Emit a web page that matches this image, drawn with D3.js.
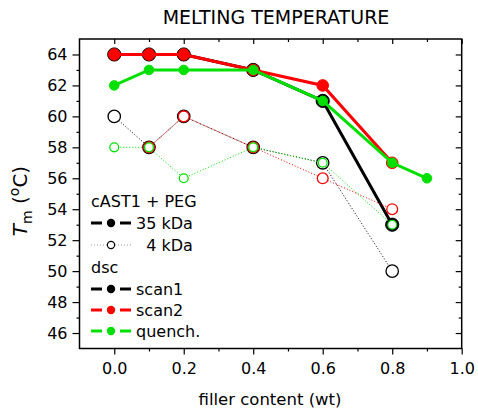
<!DOCTYPE html>
<meta charset="utf-8">
<style>
body {
  margin: 0;
  background: #fff;
}
text {
  font-family: "DejaVu Sans", sans-serif;
  fill: #000;
}
.axis line {
  stroke: #000;
  stroke-width: 1.2;
}
.axis text {
  font-size: 16px;
}
</style>
<body>
<script src="https://cdn.jsdelivr.net/npm/d3@7"></script>
<script>

var width = 478,
    height = 415;

// 35 kDa PEG (filled symbols, solid lines)
var x35 = [0.0, 0.1, 0.2, 0.4, 0.6, 0.8];
var scan1_35 = [64, 64, 64, 63, 61, 53];
var scan2_35 = [64, 64, 64, 63, 62, 57];
var xQuench35 = [0.0, 0.1, 0.2, 0.4, 0.6, 0.8, 0.9];
var quench_35 = [62, 63, 63, 63, 61, 57, 56];

// 4 kDa PEG (open symbols, dotted lines)
var x4 = [0.0, 0.1, 0.2, 0.4, 0.6, 0.8];
var scan1_4 = [60, 58, 60, 58, 57, 50];
var xScan2_4 = [0.1, 0.2, 0.4, 0.6, 0.8];
var scan2_4 = [58, 60, 58, 56, 54];
var quench_4 = [58, 58, 56, 58, 57, 53];

var xTicks = [0.0, 0.2, 0.4, 0.6, 0.8, 1.0];
var yTicks = [46, 48, 50, 52, 54, 56, 58, 60, 62, 64];

var colors = {scan1: "#000000", scan2: "#ff0000", quench: "#00e000"};
var radius = {scan1: 6.6, scan2: 5.8, quench: 4.8};

var series = [
  {key: "scan1", kda: 35, xs: x35, ys: scan1_35},
  {key: "scan2", kda: 35, xs: x35, ys: scan2_35},
  {key: "quench", kda: 35, xs: xQuench35, ys: quench_35},
  {key: "scan1", kda: 4, xs: x4, ys: scan1_4},
  {key: "scan2", kda: 4, xs: xScan2_4, ys: scan2_4},
  {key: "quench", kda: 4, xs: x4, ys: quench_4}
];

var legendHeaders = ["cAST1 + PEG", "dsc"];
var legendPeg = [{label: "35 kDa", kda: 35}, {label: "\u20074 kDa", kda: 4}];
var legendDsc = [{label: "scan1", key: "scan1"}, {label: "scan2", key: "scan2"}, {label: "quench.", key: "quench"}];

var x = d3.scaleLinear().domain([-0.1, 1.0]).range([79.5, 461.7]);
var y = d3.scaleLinear().domain([45, 65]).range([348.5, 39]);

var svg = d3.select("body").append("svg")
    .attr("width", width)
    .attr("height", height);

// axes
svg.append("g").attr("class", "axis")
    .attr("transform", "translate(" + x.range()[0] + ",0)")
    .call(d3.axisLeft(y).tickValues(yTicks).tickSize(7).tickPadding(5))
    .call(function(g) { g.select(".domain").remove(); });
svg.append("g").attr("class", "axis")
    .attr("transform", "translate(" + x.range()[0] + ",0)")
    .call(d3.axisLeft(y).tickValues(d3.range(47, 65, 2)).tickSize(3).tickFormat(""))
    .call(function(g) { g.select(".domain").remove(); });
svg.append("g").attr("class", "axis")
    .attr("transform", "translate(" + x.range()[1] + ",0)")
    .call(d3.axisRight(y).tickValues(yTicks).tickSize(-6).tickFormat(""))
    .call(function(g) { g.select(".domain").remove(); });
svg.append("g").attr("class", "axis")
    .attr("transform", "translate(" + x.range()[1] + ",0)")
    .call(d3.axisRight(y).tickValues(d3.range(47, 65, 2)).tickSize(-3).tickFormat(""))
    .call(function(g) { g.select(".domain").remove(); });

svg.append("g").attr("class", "axis")
    .attr("transform", "translate(0," + y.range()[0] + ")")
    .call(d3.axisBottom(x).tickValues(xTicks).tickSize(6).tickPadding(8).tickFormat(d3.format(".1f")))
    .call(function(g) { g.select(".domain").remove(); });
svg.append("g").attr("class", "axis")
    .attr("transform", "translate(0," + y.range()[0] + ")")
    .call(d3.axisBottom(x).tickValues([0.1, 0.3, 0.5, 0.7, 0.9]).tickSize(3).tickFormat(""))
    .call(function(g) { g.select(".domain").remove(); });
svg.append("g").attr("class", "axis")
    .attr("transform", "translate(0," + y.range()[1] + ")")
    .call(d3.axisTop(x).tickValues(xTicks).tickSize(-5).tickFormat(""))
    .call(function(g) { g.select(".domain").remove(); });
svg.append("g").attr("class", "axis")
    .attr("transform", "translate(0," + y.range()[1] + ")")
    .call(d3.axisTop(x).tickValues([0.1, 0.3, 0.5, 0.7, 0.9]).tickSize(-3).tickFormat(""))
    .call(function(g) { g.select(".domain").remove(); });

svg.append("rect")
    .attr("x", x.range()[0])
    .attr("y", y.range()[1])
    .attr("width", x.range()[1] - x.range()[0])
    .attr("height", y.range()[0] - y.range()[1])
    .attr("fill", "none")
    .attr("stroke", "#000")
    .attr("stroke-width", 1.5);

// series
var line = d3.line()
    .x(function(d) { return x(d[0]); })
    .y(function(d) { return y(d[1]); });

series.forEach(function(s) {
  var pts = s.xs.map(function(v, i) { return [v, s.ys[i]]; });
  var g = svg.append("g");
  var filled = s.kda === 35;
  g.append("path")
      .datum(pts)
      .attr("d", line)
      .attr("fill", "none")
      .attr("stroke", colors[s.key])
      .attr("stroke-width", filled ? 3 : 1)
      .attr("stroke-dasharray", filled ? null : "1,2");
  g.selectAll("circle")
      .data(pts)
    .enter().append("circle")
      .attr("cx", function(d) { return x(d[0]); })
      .attr("cy", function(d) { return y(d[1]); })
      .attr("r", filled ? radius[s.key] : radius[s.key] - 0.4)
      .attr("fill", filled ? colors[s.key] : "#fff")
      .attr("stroke", colors[s.key])
      .attr("stroke-width", filled ? 1 : 1.3);
});

// legend
var lg = svg.append("g");
var rowY = d3.scaleOrdinal()
    .domain(["h0", "35", "4", "h1", "scan1", "scan2", "quench"])
    .range([207, 223, 245, 273, 289, 310, 331]);

legendHeaders.forEach(function(h, i) {
  lg.append("text")
      .attr("x", 91)
      .attr("y", rowY("h" + i))
      .style("font-size", "16px")
      .text(h);
});

function legendSymbol(cy, color, open) {
  if (open) {
    lg.append("line")
        .attr("x1", 91).attr("x2", 131).attr("y1", cy).attr("y2", cy)
        .attr("stroke", "#999").attr("stroke-width", 1).attr("stroke-dasharray", "1,2");
    lg.append("circle")
        .attr("cx", 111).attr("cy", cy).attr("r", 3.6)
        .attr("fill", "#fff").attr("stroke", color).attr("stroke-width", 1.2);
  } else {
    [[91, 102], [120, 131]].forEach(function(seg) {
      lg.append("line")
          .attr("x1", seg[0]).attr("x2", seg[1]).attr("y1", cy).attr("y2", cy)
          .attr("stroke", color).attr("stroke-width", 3);
    });
    lg.append("circle")
        .attr("cx", 111).attr("cy", cy).attr("r", 4.2)
        .attr("fill", color);
  }
}

legendPeg.forEach(function(d) {
  var cy = rowY(String(d.kda));
  legendSymbol(cy, "#000", d.kda === 4);
  lg.append("text")
      .attr("x", 136)
      .attr("y", cy + 5.5)
      .style("font-size", "16px")
      .text(d.label);
});

legendDsc.forEach(function(d) {
  var cy = rowY(d.key);
  legendSymbol(cy, colors[d.key], false);
  lg.append("text")
      .attr("x", 136)
      .attr("y", cy + 5.5)
      .style("font-size", "16px")
      .text(d.label);
});

// titles
svg.append("text")
    .attr("x", 276)
    .attr("y", 24)
    .attr("text-anchor", "middle")
    .style("font-size", "19px")
    .text("MELTING TEMPERATURE");

svg.append("text")
    .attr("x", 270)
    .attr("y", 405)
    .attr("text-anchor", "middle")
    .style("font-size", "16.5px")
    .text("filler content (wt)");

var yl = svg.append("text")
    .attr("transform", "translate(27,201) rotate(-90)")
    .attr("text-anchor", "middle")
    .style("font-size", "20px");
yl.append("tspan").style("font-style", "italic").text("T");
yl.append("tspan").attr("dy", 5).style("font-size", "14px").text("m");
yl.append("tspan").attr("dy", -5).text(" (");
yl.append("tspan").attr("dy", -8).style("font-size", "14px").text("o");
yl.append("tspan").attr("dy", 8).text("C)");

</script>
